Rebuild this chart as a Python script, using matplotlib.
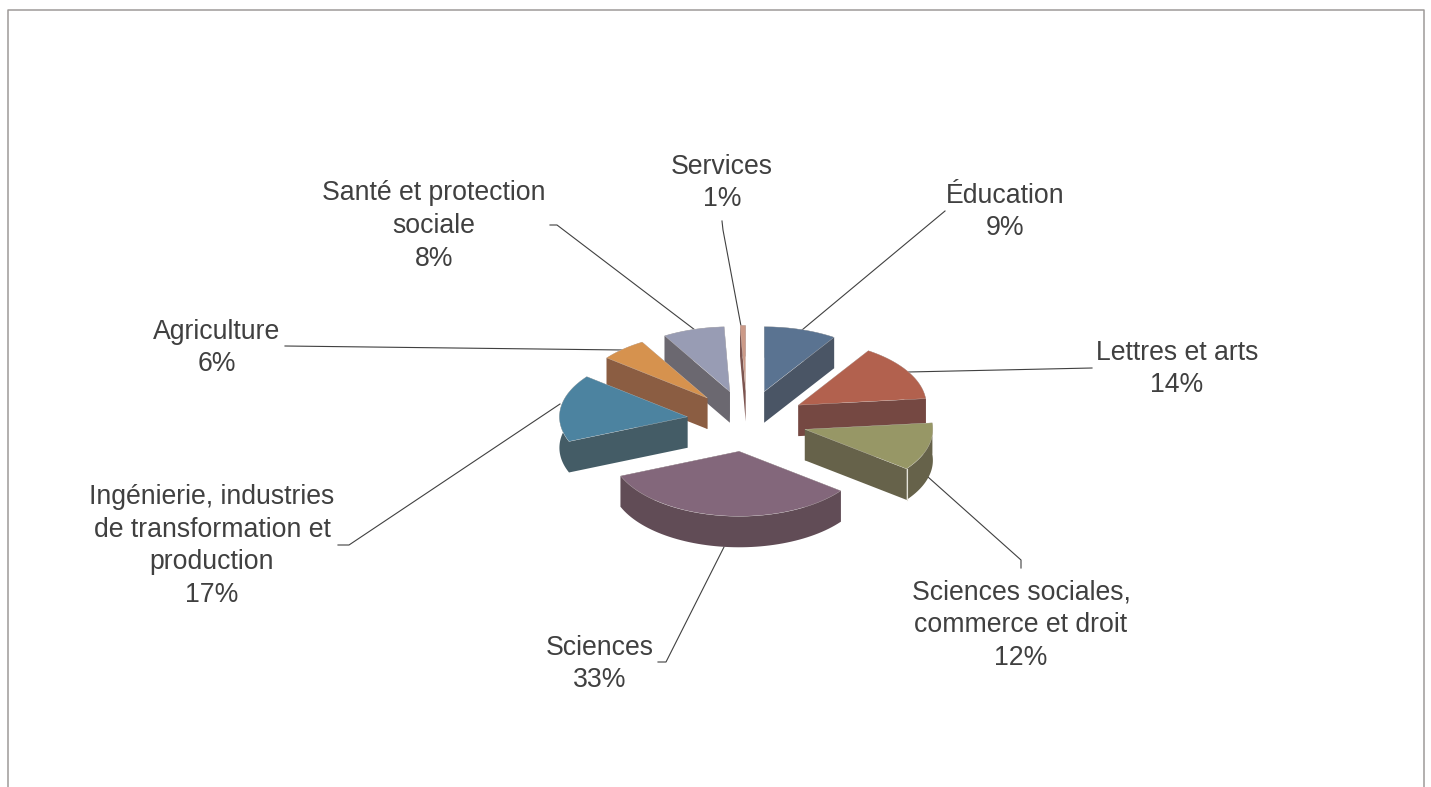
import matplotlib
matplotlib.use('Agg')
import matplotlib.pyplot as plt
import numpy as np

plt.rcParams['font.family'] = ['Liberation Sans', 'DejaVu Sans']

# categories, clockwise from 12 o'clock
categories = ['Éducation', 'Lettres et arts', 'Sciences sociales,\ncommerce et droit', 'Sciences',
              'Ingénierie, industries\nde transformation et\nproduction', 'Agriculture',
              'Santé et protection\nsociale', 'Services']
values = [9.2, 14.2, 12.0, 33.4, 16.8, 5.9, 7.8, 0.7]

top_colors = ['#5A7391', '#B2614E', '#979766', '#83677B', '#4C83A0', '#D6924E', '#989CB4', '#CC9A88']
side_colors = ['#4A5565', '#754842', '#66624A', '#614C56', '#445C66', '#8B5D42', '#6B6870', '#7D5550']

# label centres and leader paths, in pixels
label_pos = [(1005, 212), (1177, 369), (1021, 625), (600, 664), (212, 546), (217, 348), (434, 226), (722, 183)]
leaders = [
    [(945, 211), (802, 330)],
    [(1092, 368), (908, 372)],
    [(1021, 568), (1021, 560), (928, 477)],
    [(658, 662), (666, 662), (724, 547)],
    [(338, 545), (349, 545), (560, 404)],
    [(285, 346), (623, 350)],
    [(550, 225), (557, 225), (695, 330)],
    [(722, 221), (723, 230), (741, 326)],
]

# pie geometry
cx, cy = 747, 421
rx, ry = 128, 65
depth = 31
explode = 0.47


def wedge_outline(a0, a1, ox, oy):
    a = np.radians(np.linspace(a0, a1, 60))
    return ox + rx * np.sin(a), oy - ry * np.cos(a)


fig = plt.figure(figsize=(14.31, 7.87), dpi=100)
ax = fig.add_axes([0, 0, 1, 1])
ax.set_xlim(0, 1431)
ax.set_ylim(787, 0)
ax.axis('off')

# outer frame, runs off the bottom of the picture
ax.plot([8, 8, 1424, 1424], [787, 10, 10, 787], color='#9E9A98', lw=1.1)

edges = np.cumsum([0] + values) / sum(values) * 360
wedges = []
for i in range(len(values)):
    a0, a1 = edges[i], edges[i + 1]
    mid = np.radians((a0 + a1) / 2)
    ox = cx + explode * rx * np.sin(mid)
    oy = cy - explode * ry * np.cos(mid)
    wedges.append((oy, i, a0, a1, ox))

# back to front
for oy, i, a0, a1, ox in sorted(wedges):
    x, y = wedge_outline(a0, a1, ox, oy)
    z = 2 + oy / 1000
    ax.fill([ox, x[0], x[0], ox], [oy, y[0], y[0] + depth, oy + depth], color=side_colors[i], lw=0, zorder=z)
    ax.fill([ox, x[-1], x[-1], ox], [oy, y[-1], y[-1] + depth, oy + depth], color=side_colors[i], lw=0, zorder=z)
    ax.fill(np.r_[x, x[::-1]], np.r_[y, y[::-1] + depth], color=side_colors[i], lw=0, zorder=z)
    ax.fill(np.r_[ox, x], np.r_[oy, y], facecolor=top_colors[i], edgecolor='#D8D4D0', lw=0.2, zorder=z + 0.0001)
    # pale corner between the two faces of this slice
    if categories[i].startswith('Sciences sociales'):
        ax.plot([x[-1], x[-1]], [y[-1], y[-1] + depth], color='#E4E2D8', lw=0.8, zorder=z + 0.0002)

for path in leaders:
    px, py = zip(*path)
    ax.plot(px, py, color='#404040', lw=0.8, zorder=1)

for name, v, (lx, ly) in zip(categories, values, label_pos):
    ax.text(lx, ly, f'{name}\n{round(v)}%', ha='center', va='center', fontsize=19.2,
            color='#404040', linespacing=1.33)

fig.savefig('out.png', dpi=100)
